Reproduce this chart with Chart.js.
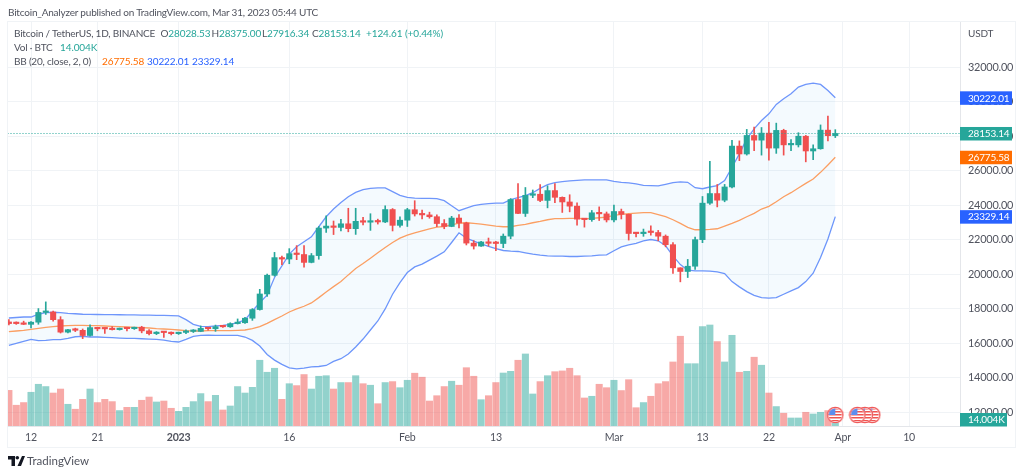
<!DOCTYPE html>
<html><head><meta charset="utf-8">
<script src="https://cdn.jsdelivr.net/npm/chart.js@4"></script>
<style>
html,body{margin:0;padding:0;background:#fff;width:1024px;height:476px;overflow:hidden}
body{position:relative;font-family:"Lato",sans-serif;font-size:10px;letter-spacing:-.2px;color:#50535e}
#frame{position:absolute;left:6.5px;top:20.5px;width:1007.5px;height:425px;border:1.5px solid #f0f3f6;box-sizing:content-box}
canvas{position:absolute;left:0;top:0}
.t{position:absolute;white-space:nowrap;line-height:12px}
.n{font-size:10px;letter-spacing:-.1px}
.g{color:#26a69a}.o{color:#ff6d00}.b{color:#2962ff}
</style></head><body>
<div id="frame"></div>
<canvas id="c" width="1024" height="476"></canvas>
<div class="t" style="left:8px;top:6px">Bitcoin_Analyzer published on TradingView.com, Mar 31, 2023 05:44 UTC</div>
<div class="t" style="left:14px;top:27px">Bitcoin / TetherUS, 1D, BINANCE</div>
<div class="t" style="left:160.5px;top:27px">O<span class="g n">28028.53</span></div>
<div class="t" style="left:211.5px;top:27px">H<span class="g n">28375.00</span></div>
<div class="t" style="left:262px;top:27px">L<span class="g n">27916.34</span></div>
<div class="t" style="left:312px;top:27px">C<span class="g n">28153.14</span></div>
<div class="t g n" style="left:366px;top:27px">+124.61 (+0.44%)</div>
<div class="t" style="left:14px;top:41px">Vol · BTC</div>
<div class="t g n" style="left:60px;top:41px">14.004K</div>
<div class="t" style="left:14px;top:55px">BB (20, close, 2, 0)</div>
<div class="t o n" style="left:102px;top:55px">26775.58</div>
<div class="t b n" style="left:147px;top:55px">30222.01</div>
<div class="t b n" style="left:192px;top:55px">23329.14</div>
<div class="t" style="left:968px;top:27px">USDT</div>
<svg style="position:absolute;left:8px;top:456px" width="17" height="10" viewBox="0 0 17 10"><path d="M0 0h7v10H3.5V3.5H0z M14 0h3l-4 10H9.5z" fill="#131722"/><circle cx="9.3" cy="1.8" r="1.8" fill="#131722"/></svg>
<div class="t" style="left:27px;top:455px;font-size:11.5px;letter-spacing:0;color:#50535e">TradingView</div>
<script>
// Candles, Dec 9 2022 .. Mar 31 2023, one value per day
const opens=[17224,17128,17127,17085,17210,17775,17800,17356,16632,16776,16739,16438,16895,16825,16821,16778,16836,16832,16919,16706,16547,16633,16607,
16542,16616,16672,16675,16850,16831,16950,16943,17127,17178,17440,17943,18846,19930,20954,20871,21185,21134,20677,21071,22667,22783,22707,22916,22632,23060,23009,23074,23022,23743,22826,
23125,23732,23488,23431,23326,22932,22762,23249,22963,21796,21625,21862,21783,21773,22199,24324,23517,24569,24631,24271,24842,24452,24182,23940,23185,23157,23554,23492,
23141,23628,23465,22354,22346,22430,22410,22197,21705,20362,20150,20455,21997,24113,24670,24285,25052,27423,26965,28038,27767,28175,27307,28333,27493,27494,27994,27139,27268,28348,28028.53];
const highs=[17360,17227,17270,17242,18000,18387,17850,17530,16796,16864,16816,17061,16917,16866,16950,16869,16859,16926,16972,16777,16663,16650,16644,
16630,16760,16780,16990,16880,17042,16979,17176,17398,17490,18000,19117,20000,21258,21050,21475,21650,21650,21194,22755,23371,23078,23180,23816,23816,23290,23500,23186,23960,23800,23320,
23812,24255,23715,23590,23435,23160,23350,23450,23011,21940,21906,22090,21894,22326,24380,25250,25021,24877,25192,25121,25250,24476,24600,24132,23205,23689,23897,23600,
24000,23770,23476,22410,22610,22800,22533,22270,21820,20367,20850,22150,24500,26533,25196,25200,27756,27725,28390,28528,28500,28800,28754,28400,27800,28200,28043,27500,28650,29170,28375];
const lows=[17058,17084,17071,16871,17089,17660,17275,16580,16584,16663,16256,16398,16710,16558,16756,16752,16700,16790,16592,16470,16488,16333,16470,
16499,16546,16610,16657,16753,16679,16908,16908,17104,17142,17316,17910,18700,19880,20550,20600,20835,20407,20650,20860,22422,22292,22500,22450,22300,22850,22534,22900,22984,22500,22715,
22760,23366,23200,23240,22745,22628,22745,22670,21688,21451,21599,21630,21351,21532,22047,23505,23339,24430,24192,23840,24148,23574,23608,22841,22722,23059,23106,23020,
23020,23195,21971,22157,22189,22258,21927,21580,20042,19549,19800,20270,21820,24040,23896,24192,25000,26578,26900,27156,26900,26601,27000,26900,27156,27370,26508,26631,27241,27719,27916.34];
const closes=[17128,17127,17085,17210,17775,17800,17356,16632,16776,16739,16438,16895,16825,16821,16778,16836,16832,16919,16706,16547,16633,16607,16542,
16616,16672,16675,16850,16831,16950,16943,17127,17178,17440,17943,18846,19930,20954,20871,21185,21134,20677,21071,22667,22783,22707,22916,22632,23060,23009,23074,23022,23743,22826,23125,
23732,23488,23431,23326,22932,22762,23249,22963,21796,21625,21862,21783,21773,22199,24324,23517,24569,24631,24271,24842,24452,24182,23940,23185,23157,23554,23492,23141,
23628,23465,22354,22346,22430,22410,22197,21705,20362,20150,20455,21997,24113,24670,24285,25052,27423,26965,28038,27767,28175,27307,28333,27493,27494,27994,27139,27268,28348,28028,28153.14];
// Volume, thousands of BTC
const volumes=[187,109,123,177,219,207,173,194,114,88,140,194,123,140,128,81,98,98,135,152,126,131,93,
77,98,128,170,128,161,84,105,207,173,203,345,282,303,140,222,212,270,194,261,264,194,228,228,264,222,214,117,228,233,201,
240,277,256,131,159,207,235,214,306,261,138,159,228,278,287,345,378,168,233,264,285,289,303,264,147,156,219,201,
240,186,243,96,123,156,222,233,336,471,327,327,522,530,443,336,476,282,287,361,319,173,102,67,42,42,72,63,72,81,14.004];
// Bollinger bands
const bbUpper=[17453,17482,17510,17510,17670,17762,17785,17760,17725,17700,17670,17660,17655,17650,17645,17640,17635,17630,17620,17615,17605,17600,17590,
17575,17355,17085,16970,16950,16990,17030,17085,17180,17340,17860,18340,18790,19800,20477,21155,21580,21870,22163,22744,23325,23771,24157,24488,24740,24895,24970,24995,24995,24780,24565,
24450,24410,24390,24390,24372,24255,23965,23675,23830,23965,24040,24080,24120,24120,24315,24430,24546,24720,24970,25185,25300,25360,25400,25436,25460,25460,25460,25460,
25378,25320,25285,25225,25145,25128,25110,25205,25300,25350,25320,25010,24950,25050,25128,25420,26192,26970,27840,28424,28907,29296,29837,30168,30459,30843,31000,31077,31000,30650,30222.01];
const bbMiddle=[16657,16698,16736,16795,16853,16911,16950,16988,17007,17027,17027,17007,17007,16988,16970,16950,16930,16911,16892,16872,16833,16814,16795,
16756,16717,16698,16698,16717,16717,16717,16717,16736,16756,16833,16950,17143,17355,17570,17802,17977,18133,18325,18634,18965,19273,19565,19953,20320,20610,20923,21232,21540,21830,22085,
22260,22395,22512,22628,22725,22760,22860,22958,22977,22937,22900,22843,22785,22744,22744,22820,22880,22977,23052,23150,23210,23210,23227,23227,23210,23227,23267,23308,
23400,23460,23500,23540,23558,23558,23442,23326,23150,22937,22705,22570,22570,22590,22628,22785,22937,23110,23326,23520,23773,23924,24198,24488,24720,24995,25262,25517,25900,26330,26775.58];
const bbLower=[15866,15983,16100,16215,16135,16155,16195,16195,16270,16365,16390,16350,16350,16330,16310,16290,16270,16270,16250,16232,16215,16175,16100,
16060,16215,16390,16445,16465,16445,16445,16445,16445,16350,16155,15825,15340,15010,14760,14565,14505,14545,14620,14640,14700,14935,15090,15360,15767,16232,16756,17280,17977,18830,19505,
20090,20418,20575,20810,21040,21290,21830,22395,22085,21910,21755,21600,21483,21367,21330,21310,21232,21155,21096,21058,21040,21040,21020,21020,21040,21058,21096,21115,
21350,21580,21698,21775,21930,22005,21930,21640,21050,20550,20226,20186,20186,20166,20128,20030,19565,19256,18985,18770,18635,18600,18635,18830,19023,19215,19565,20050,20960,22030,23329.14];
// Axes
const priceTicks=[12000,14000,16000,18000,20000,22000,24000,26000,28000,30000,32000];
const timeTickDays=[3,12,23,38,54,66,82,94,103,113,122];
const timeTickLabels=['12','21','2023','16','Feb','13','Mar','13','22','Apr','10'];
// Economic events
const eventDays=[117,116,115,112];
const eventPrices=[11830,11830,11830,11830];
// Right-hand value tags
const tagValues=[30222.01,28153.14,26775.58,23329.14];
const tagTexts=['30222.01','28153.14','26775.58','23329.14'];
const tagColors=['#2962ff','#26a69a','#ff6d00','#2962ff'];
const lastPrice=28153.14, volumeTagText='14.004K';

const FONT='"Lato",sans-serif';
const UP='#26a69a',DOWN='#f04f4f',UPV='rgba(38,166,154,.5)',DOWNV='rgba(239,83,80,.5)';
const days=closes.map((_,i)=>i);
const isUp=i=>closes[i]>=opens[i];

function flag(){
  const s=18,c=document.createElement('canvas');c.width=c.height=s;const g=c.getContext('2d');const m=s/2;
  g.beginPath();g.arc(m,m,8.3,0,7);g.fillStyle='#fff';g.fill();
  g.save();g.beginPath();g.arc(m,m,6.6,0,7);g.clip();
  g.fillStyle='#ef5350';for(let y=2;y<16;y+=3)g.fillRect(2,y,14,1.5);
  g.fillStyle='#5b8def';g.fillRect(2,2,7,7);
  g.restore();
  g.beginPath();g.arc(m,m,7.7,0,7);g.strokeStyle='#f05a5a';g.lineWidth=1.3;g.stroke();
  return c;
}
const tags={id:'tags',afterDraw(ch){
  const g=ch.ctx,y=ch.scales.y,v=ch.scales.yVol,a=ch.chartArea;
  const box=(cy,w,col,txt)=>{g.fillStyle=col;g.fillRect(a.right,cy-6.5,w,13.5);g.fillStyle='#fff';
    g.font='10px '+FONT;g.textBaseline='middle';g.textAlign='left';g.fillText(txt,a.right+8,cy+.5);};
  tagValues.forEach((t,i)=>box(y.getPixelForValue(t),52,tagColors[i],tagTexts[i]));
  box(Math.min(v.getPixelForValue(volumes[volumes.length-1]),a.bottom-6.5),47,UP,volumeTagText);
}};
new Chart(document.getElementById('c'),{
  type:'bar',plugins:[tags],
  data:{datasets:[
    {type:'line',data:eventDays.map((d,i)=>({x:d,y:eventPrices[i]})),showLine:false,pointStyle:flag(),order:0,yAxisID:'y',clip:false},
    {type:'line',data:[{x:-1,y:lastPrice},{x:130,y:lastPrice}],borderColor:'#26a69a',borderWidth:1,borderDash:[1,2],pointRadius:0,order:1,yAxisID:'y'},
    {type:'bar',data:days.map(i=>({x:i,y:[opens[i],closes[i]]})),backgroundColor:days.map(i=>isUp(i)?UP:DOWN),barThickness:5.4,minBarLength:1.5,grouped:false,order:2,yAxisID:'y'},
    {type:'bar',data:days.map(i=>({x:i,y:[lows[i],highs[i]]})),backgroundColor:days.map(i=>isUp(i)?UP:DOWN),barThickness:1,grouped:false,order:3,yAxisID:'y'},
    {type:'line',data:days.map(i=>({x:i,y:bbMiddle[i]})),borderColor:'#fb9f63',borderWidth:1.3,pointRadius:0,tension:0,order:4,yAxisID:'y'},
    {type:'line',data:days.map(i=>({x:i,y:bbUpper[i]})),borderColor:'#6f96fb',borderWidth:1.3,pointRadius:0,tension:0,order:5,yAxisID:'y',
      fill:{target:6,above:'rgba(33,150,243,.05)',below:'rgba(33,150,243,.05)'}},
    {type:'line',data:days.map(i=>({x:i,y:bbLower[i]})),borderColor:'#6f96fb',borderWidth:1.3,pointRadius:0,tension:0,order:6,yAxisID:'y'},
    {type:'bar',data:days.map(i=>({x:i,y:volumes[i]})),backgroundColor:days.map(i=>isUp(i)?UPV:DOWNV),barThickness:6.4,grouped:false,order:7,yAxisID:'yVol'}
  ]},
  options:{
    responsive:false,animation:false,
    layout:{padding:{left:8,top:22,right:9,bottom:28}},
    plugins:{legend:{display:false},title:{display:false},tooltip:{enabled:false}},
    scales:{
      x:{type:'linear',min:-0.12,max:128.9,offset:false,
        afterBuildTicks:s=>{s.ticks=timeTickDays.map(v=>({value:v}));},
        afterFit:s=>{s.height=22;},
        grid:{color:'#f0f3f6',lineWidth:1,drawTicks:false,offset:false},
        border:{color:'#e4e6ea',width:1},
        ticks:{autoSkip:false,maxRotation:0,padding:5,color:'#50535e',
          font:c=>({family:FONT,size:10.6,weight:(c.tick&&timeTickLabels[timeTickDays.indexOf(c.tick.value)]==='2023')?'700':'400'}),
          callback:v=>timeTickLabels[timeTickDays.indexOf(v)]}},
      y:{type:'linear',position:'right',min:11189,max:34619,
        afterBuildTicks:s=>{s.ticks=priceTicks.map(v=>({value:v}));},
        afterFit:s=>{s.width=55;},
        grid:{color:'#f0f3f6',lineWidth:1,drawTicks:false},
        border:{color:'#e4e6ea',width:1},
        ticks:{autoSkip:false,padding:8,color:'#50535e',font:{family:FONT,size:10.9},callback:v=>v.toFixed(2)}},
      yVol:{type:'linear',display:false,min:0,max:2120,position:'left'}
    }
  }
});
</script>
</body></html>
